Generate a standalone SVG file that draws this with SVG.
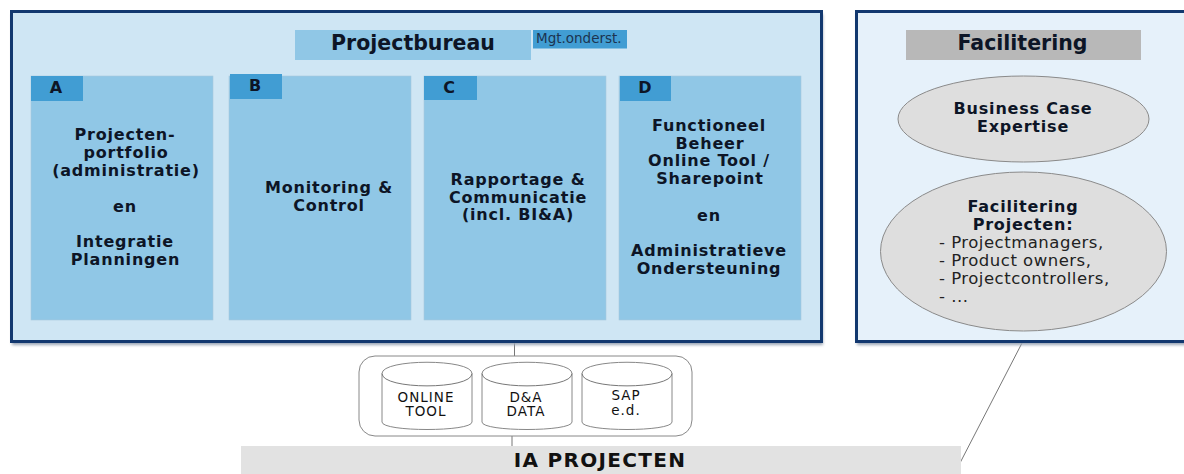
<svg xmlns="http://www.w3.org/2000/svg" width="1184" height="474" viewBox="0 0 1184 474">
<style>
text{font-family:"DejaVu Sans",Verdana,sans-serif;fill:#0d1526;text-anchor:middle}
.b{font-weight:bold;font-size:16px;letter-spacing:.8px}
.t{font-weight:bold;font-size:20.500px}
.tab{font-weight:bold;font-size:16px}
.s{font-size:16.500px;letter-spacing:.5px;text-anchor:start;fill:#222}
.c{font-size:13.500px;letter-spacing:1px;fill:#111}
.panel{stroke:#12386f;stroke-width:3}
.box{fill:#90c7e6;stroke:#a9c9dc;stroke-width:.6}
.tabr{fill:#419dd3}
.el{fill:#dedede;stroke:#8a8a8a;stroke-width:1}
.cyl{fill:#fff;stroke:#888;stroke-width:1}
.line{fill:none;stroke:#777;stroke-width:1}
</style>
<defs><filter id="sh" x="-2%" y="-2%" width="104%" height="106%"><feGaussianBlur stdDeviation="1.5"/></filter>
<path id="cy" class="cyl" d="M0 11.500C0 -3.500 90 -3.500 90 11.500V60C90 70 0 70 0 60Z"/></defs>
<rect width="1184" height="474" fill="#fff"/>
<g id="connectors">
<path class="line" d="M514.500 342V356M512 436V446M960.500 462L1022 343"/>
</g>
<g id="projectbureau">
<rect x="12" y="14" width="811" height="331" fill="#9aa5b5" filter="url(#sh)"/>
<rect class="panel" x="11.500" y="11.500" width="810" height="330" fill="#cfe6f4"/>
<rect x="295" y="30" width="236" height="30" fill="#90c7e6"/>
<text class="t" x="413" y="50">Projectbureau</text>
</g>
<g id="mgt"><rect x="533" y="30" width="94" height="18.500" fill="#419dd3"/>
<text x="536" y="43" style="font-size:13.500px;fill:#1c3450;text-anchor:start">Mgt.onderst.</text></g>
<g id="node-a"><rect class="box" x="31" y="76" width="182" height="244"/><rect class="tabr" x="31" y="76" width="52" height="25"/>
<text class="tab" x="56" y="93">A</text>
<text class="b"><tspan x="125" y="140">Projecten-</tspan><tspan x="126" y="158">portfolio</tspan><tspan x="126" y="175.500">(administratie)</tspan><tspan x="125" y="212">en</tspan><tspan x="125" y="247">Integratie</tspan><tspan x="125.500" y="265">Planningen</tspan></text></g>
<g id="node-b"><rect class="box" x="229" y="76" width="182" height="244"/><rect class="tabr" x="230" y="74" width="52" height="25"/>
<text class="tab" x="255" y="91">B</text>
<text class="b"><tspan x="329" y="193">Monitoring &amp;</tspan><tspan x="329" y="211">Control</tspan></text></g>
<g id="node-c"><rect class="box" x="424" y="76" width="182" height="244"/><rect class="tabr" x="424" y="76" width="53" height="24"/>
<text class="tab" x="449" y="93">C</text>
<text class="b"><tspan x="518" y="185">Rapportage &amp;</tspan><tspan x="518" y="202.500">Communicatie</tspan><tspan x="518" y="220">(incl. BI&amp;A)</tspan></text></g>
<g id="node-d"><rect class="box" x="619" y="76" width="182" height="244"/><rect class="tabr" x="620" y="76" width="51" height="25"/>
<text class="tab" x="645" y="93">D</text>
<text class="b"><tspan x="709" y="131">Functioneel</tspan><tspan x="710" y="149">Beheer</tspan><tspan x="709" y="166">Online Tool /</tspan><tspan x="710" y="184">Sharepoint</tspan><tspan x="709" y="221">en</tspan><tspan x="709" y="256">Administratieve</tspan><tspan x="709" y="273.500">Ondersteuning</tspan></text></g>
<g id="facilitering">
<rect x="857" y="14" width="340" height="331" fill="#9aa5b5" filter="url(#sh)"/>
<rect class="panel" x="856.500" y="11.500" width="340" height="330" fill="#e6f1fa"/>
<rect x="906" y="30" width="235" height="30" fill="#b8b8b8"/>
<text class="t" x="1022.500" y="50">Facilitering</text>
</g>
<g id="business-case"><ellipse class="el" cx="1023.500" cy="119" rx="125.500" ry="43"/>
<text class="b"><tspan x="1023" y="114">Business Case</tspan><tspan x="1023" y="132">Expertise</tspan></text></g>
<g id="facilitering-projecten"><ellipse class="el" cx="1023.500" cy="251.500" rx="143" ry="79.500"/>
<text class="b"><tspan x="1023" y="212">Facilitering</tspan><tspan x="1023" y="230">Projecten:</tspan></text>
<text class="s"><tspan x="939" y="248">- Projectmanagers,</tspan><tspan x="939" y="266">- Product owners,</tspan><tspan x="939" y="284">- Projectcontrollers,</tspan><tspan x="939" y="302">- ...</tspan></text></g>
<g id="datastores"><rect x="359" y="356" width="333" height="80" rx="16" fill="#fff" stroke="#888"/></g>
<g id="online-tool"><use href="#cy" x="382" y="362"/><path class="line" d="M382 373.500C382 390 472 390 472 373.500"/>
<text class="c"><tspan x="426" y="401.500">ONLINE</tspan><tspan x="426" y="416">TOOL</tspan></text></g>
<g id="da-data"><use href="#cy" x="482" y="362"/><path class="line" d="M482 373.500C482 390 572 390 572 373.500"/>
<text class="c"><tspan x="526" y="401.500">D&amp;A</tspan><tspan x="526" y="416">DATA</tspan></text></g>
<g id="sap"><use href="#cy" x="582" y="362"/><path class="line" d="M582 373.500C582 390 672 390 672 373.500"/>
<text class="c"><tspan x="626" y="400">SAP</tspan><tspan x="626" y="415">e.d.</tspan></text></g>
<g id="ia-projecten"><rect x="241" y="446" width="720" height="28" fill="#e2e2e2"/>
<text x="600" y="466.500" style="font-weight:bold;font-size:20px;letter-spacing:1.300px;fill:#111">IA PROJECTEN</text></g>
</svg>
